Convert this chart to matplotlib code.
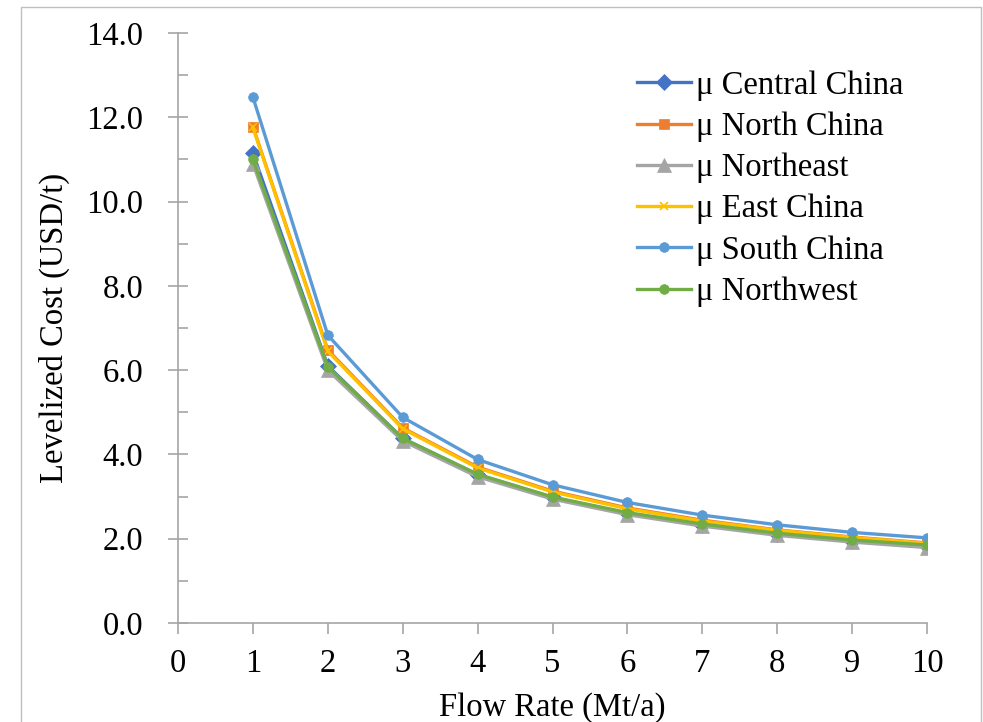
import matplotlib
matplotlib.use("Agg")
import matplotlib.pyplot as plt
from matplotlib.ticker import MultipleLocator, FormatStrFormatter
from matplotlib.patches import Rectangle

flow_rate = [1, 2, 3, 4, 5, 6, 7, 8, 9, 10]
central_china = [11.15, 6.10, 4.38, 3.52, 2.98, 2.60, 2.33, 2.11, 1.95, 1.82]
north_china = [11.78, 6.48, 4.63, 3.70, 3.13, 2.73, 2.44, 2.21, 2.04, 1.90]
northeast = [10.90, 6.00, 4.32, 3.47, 2.94, 2.57, 2.30, 2.08, 1.92, 1.79]
east_china = [11.76, 6.45, 4.61, 3.68, 3.11, 2.71, 2.42, 2.20, 2.03, 1.89]
south_china = [12.48, 6.83, 4.88, 3.88, 3.28, 2.86, 2.56, 2.33, 2.15, 2.02]
northwest = [11.00, 6.08, 4.38, 3.53, 2.99, 2.62, 2.35, 2.13, 1.97, 1.85]

labels = ["μ Central China", "μ North China", "μ Northeast", "μ East China",
          "μ South China", "μ Northwest"]

plt.rcParams['font.family'] = ['Liberation Serif', 'DejaVu Serif']

fig = plt.figure(figsize=(9.83, 7.22), dpi=100)
ax = fig.add_axes([178/983, 1-623/722, (927-178)/983, (623-33)/722])

# outer frame
fig.patches.append(Rectangle((21/983, -0.01), (981-21)/983, 1.01-7/722,
                             transform=fig.transFigure, fill=False,
                             edgecolor='#BFBFBF', linewidth=1.0))

series = [
    (central_china, '#4472C4', 'D', 8),
    (north_china, '#ED7D31', 's', 7),
    (northeast, '#A5A5A5', '^', 10),
    (east_china, '#FFC000', 'x', 5.5),
    (south_china, '#5B9BD5', 'o', 7),
    (northwest, '#70AD47', 'o', 7),
]
for (vals, c, m, ms), lab in zip(series, labels):
    ax.plot(flow_rate, vals, color=c, marker=m, markersize=ms, linewidth=2.4,
            label=lab, markeredgewidth=1.2 if m == 'x' else 0.5,
            markeredgecolor=c)

ax.set_xlim(0, 10)
ax.set_ylim(0, 14)
ax.xaxis.set_major_locator(MultipleLocator(1))
ax.yaxis.set_major_locator(MultipleLocator(2))
ax.yaxis.set_minor_locator(MultipleLocator(1))
ax.yaxis.set_major_formatter(FormatStrFormatter('%.1f'))

for s in ['top', 'right']:
    ax.spines[s].set_visible(False)
for s in ['left', 'bottom']:
    ax.spines[s].set_color('#A6A6A6')
    ax.spines[s].set_linewidth(1.2)

ax.tick_params(axis='y', which='major', direction='inout', length=14,
               width=1.2, color='#A6A6A6', labelsize=23.5, pad=18)
ax.tick_params(axis='y', which='minor', direction='in', length=7,
               width=1.2, color='#A6A6A6')
ax.tick_params(axis='x', which='major', direction='out', length=8,
               width=1.2, color='#A6A6A6', labelsize=23.5, pad=10)

ax.set_xlabel('Flow Rate (Mt/a)', fontsize=23.5, labelpad=10)
ax.set_ylabel('Levelized Cost (USD/t)', fontsize=23.5, labelpad=12)

leg = ax.legend(loc='upper left', bbox_to_anchor=(0.613, 0.937), frameon=False,
                fontsize=23.5, handlelength=1.65, handletextpad=0.15,
                labelspacing=0.33, borderaxespad=0.0, borderpad=0.0)

fig.savefig('out.png', dpi=100)
